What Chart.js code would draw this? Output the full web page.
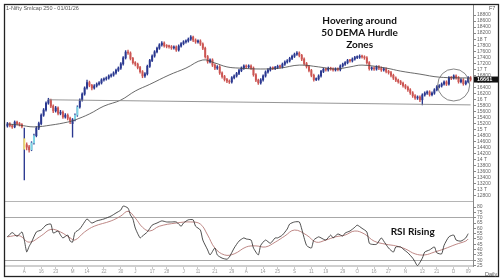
<!DOCTYPE html>
<html>
<head>
<meta charset="utf-8">
<script src="https://cdn.jsdelivr.net/npm/chart.js@4.4.1/dist/chart.umd.min.js"></script>
<style>
  html, body { margin: 0; padding: 0; background: #fff; }
  #wrap { position: relative; width: 500px; height: 280px; }
</style>
</head>
<body>
<div id="wrap"><canvas id="chart" width="500" height="280"></canvas></div>
<script>
// 1-Nifty Smlcap 250, daily candles
var opens = [15120,15190,15130,15090,15250,15200,15170,14700,14500,14430,14330,14560,14800,15050,15200,15480,15650,15880,15980,15780,
  15620,15720,15540,15580,15420,15480,15380,15200,15330,15480,15750,15980,16180,16380,16560,16470,16380,16450,16510,16550,
  16650,16680,16710,16780,16810,16880,16970,17040,17180,17380,17570,17540,17360,17220,17170,17060,16920,16780,16850,17100,
  17290,17440,17580,17700,17810,17870,17780,17760,17750,17710,17740,17640,17770,17850,17910,17940,18000,18070,17970,17910,
  17940,17840,17700,17420,17250,17310,17140,17040,17080,16880,16760,16660,16610,16580,16720,16780,16860,16960,17040,17110,
  17080,17110,17040,16820,16640,16550,16650,16780,16910,16980,17040,17030,17060,17100,17080,17170,17240,17280,17360,17430,
  17500,17540,17460,17340,17190,17090,16960,16800,16660,16680,16780,16930,17000,16980,17030,17010,16980,17010,16990,17110,
  17170,17220,17290,17280,17340,17390,17400,17430,17410,17380,17220,17020,17040,17010,17080,17040,16980,17010,16930,16890,
  16800,16710,16640,16590,16540,16460,16400,16320,16220,16120,16050,16080,15990,16150,16210,16250,16160,16210,16320,16420,
  16450,16510,16580,16510,16720,16710,16780,16720,16590,16650,16520,16590,16720];
var highs = [15240,15230,15170,15290,15280,15240,15200,15050,14560,14480,14600,14850,15100,15250,15520,15700,15920,16040,16010,15820,
  15770,15760,15640,15620,15530,15520,15420,15370,15520,15790,16020,16220,16420,16640,16610,16500,16490,16550,16590,16690,
  16720,16750,16820,16850,16920,17010,17080,17220,17420,17620,17640,17580,17400,17260,17210,17100,16960,16890,17140,17330,
  17480,17620,17740,17850,17920,17910,17820,17800,17790,17780,17780,17810,17890,17950,17980,18040,18120,18100,18010,17980,
  17980,17880,17740,17460,17350,17350,17180,17120,17120,16920,16800,16700,16650,16760,16820,16900,17000,17080,17150,17150,
  17150,17150,17080,16860,16680,16690,16820,16950,17020,17080,17080,17100,17140,17140,17210,17280,17320,17400,17470,17540,
  17590,17580,17500,17380,17230,17130,17000,16840,16720,16820,16970,17040,17040,17070,17070,17050,17050,17050,17150,17210,
  17260,17330,17330,17380,17430,17450,17480,17470,17450,17420,17260,17080,17080,17120,17120,17080,17050,17050,16970,16930,
  16840,16750,16680,16630,16580,16500,16440,16360,16260,16160,16120,16120,16190,16250,16290,16290,16250,16360,16460,16490,
  16550,16620,16620,16760,16760,16820,16820,16760,16690,16690,16630,16760,16760];
var lows = [15080,15090,15040,15060,15160,15120,15060,13330,14330,14250,14300,14520,14760,15000,15160,15440,15610,15840,15730,15560,
  15580,15490,15490,15370,15380,15320,15200,14750,15290,15440,15710,15940,16140,16340,16420,16320,16340,16410,16470,16510,
  16610,16640,16670,16740,16770,16840,16930,17000,17140,17340,17490,17310,17170,17110,17010,16870,16720,16730,16810,17060,
  17250,17400,17540,17660,17770,17730,17710,17700,17660,17670,17590,17600,17730,17810,17870,17900,17960,17920,17860,17870,
  17790,17650,17370,17200,17210,17090,16990,17000,16830,16710,16610,16560,16530,16540,16680,16740,16820,16920,17000,17040,
  17040,17000,16770,16590,16500,16510,16610,16740,16870,16940,16990,16990,17020,17040,17040,17130,17200,17240,17320,17390,
  17460,17410,17290,17140,17040,16910,16750,16610,16620,16640,16740,16890,16940,16940,16970,16940,16940,16950,16950,17070,
  17130,17180,17240,17240,17300,17350,17360,17370,17330,17170,16970,16970,16960,16970,16990,16930,16940,16880,16840,16750,
  16660,16590,16540,16490,16410,16350,16270,16170,16070,16000,16000,15930,15820,16110,16170,16110,16120,16170,16280,16380,
  16410,16470,16460,16470,16660,16670,16670,16540,16550,16470,16480,16550,16610];
var closes = [15190,15130,15090,15250,15200,15170,15100,14350,14420,14330,14560,14800,15050,15200,15480,15650,15880,15980,15780,15620,
  15720,15540,15580,15420,15480,15380,15280,15330,15480,15750,15980,16180,16380,16560,16470,16380,16450,16510,16550,16650,
  16680,16710,16780,16810,16880,16970,17040,17180,17380,17570,17540,17360,17220,17170,17060,16920,16780,16850,17100,17290,
  17440,17580,17700,17810,17870,17780,17760,17750,17710,17740,17640,17770,17850,17910,17940,18000,18070,17970,17910,17940,
  17840,17700,17420,17250,17310,17140,17040,17080,16880,16760,16660,16610,16580,16720,16780,16860,16960,17040,17110,17080,
  17110,17040,16820,16640,16550,16650,16780,16910,16980,17040,17030,17060,17100,17080,17170,17240,17280,17360,17430,17500,
  17540,17460,17340,17190,17090,16960,16800,16660,16680,16780,16930,17000,16980,17030,17010,16980,17010,16990,17110,17170,
  17220,17290,17280,17340,17390,17400,17430,17410,17380,17220,17020,17040,17010,17080,17040,16980,17010,16930,16890,16800,
  16710,16640,16590,16540,16460,16400,16320,16220,16120,16050,16080,15990,16150,16210,16250,16160,16210,16320,16420,16450,
  16510,16580,16510,16720,16710,16780,16720,16590,16650,16520,16590,16720,16660];

// 50 DEMA (candle index / value)
var demaAt  = [0,5,11,18,25,28,34,40,47,53,59,67,74,81,86,91,96,105,113,121,129,136,142,147,157,163,171,179,192];
var demaVal = [15190,15150,15090,15150,15250,15320,15520,15780,15980,16280,16500,16810,17040,17310,17210,17080,17040,17010,17040,17140,17080,17010,17080,17140,17040,16940,16840,16740,16710];

// support line
var supportAt  = [17, 192];
var supportVal = [15990, 15820];

// RSI and its average
var rsiAt  = [0,2,4,6,7,8,9,10,12,14,16,18,19,21,22,23,25,26,27,28,30,32,33,35,37,40,43,45,47,48,50,51,52,53,55,56,58,60,62,64,
  66,68,70,72,73,75,77,78,80,81,83,84,86,87,89,91,92,94,96,98,99,101,102,104,105,107,109,111,112,114,116,117,119,121,122,124,126,127,129,130,
  132,134,135,137,139,140,142,144,145,147,149,150,151,153,155,156,158,160,161,163,164,166,168,169,170,172,173,175,177,178,180,181,183,185,186,188,190,191];
var rsiVal = [52,56,52.5,56.6,49,37.8,43,47,56.6,58.4,63,64,55.6,57.5,53.7,51,53.7,48,47,56,59.4,66,68.8,65,67,68.8,71.6,74.4,77.2,81,79,72.5,69,60.3,51,52.8,56.6,63,65,67,
  66,66,66,62,65,68,68,62,58.4,49,39.7,35,41.5,35,32,31,33,41.5,48,51,50,49,41.5,35,44,49,46,51,51,53.7,59.4,64,66,66,59.4,44,41.5,49,52,51,
  49,53.7,51,54.7,52.8,55.6,57.5,61,63,60,56.6,46,45,45,51,48,41.5,37.7,42.5,42.5,40.6,37,32,28.4,24.8,32,37.7,39.7,42.5,37,36,44,52,53.7,49,48,51,55];
var sigAt  = [0,5,9,14,18,22,26,28,32,36,43,47,50,53,56,59,63,70,76,80,83,86,90,94,99,103,107,111,115,119,124,128,132,136,140,144,148,152,157,161,165,169,173,177,181,186,190,191];
var sigVal = [52,53,47,53,59,56.6,51,49,56.6,62,67,71.6,76,69.7,61,57.5,62,65,66,64,53.7,41.5,35,36,42.5,43.5,42.5,47,52.8,58.4,53.7,47,49,52,53.7,57.5,54.7,48,45,43.5,40.6,36,35,37.7,40.6,45,48,50];

// axis ticks
var priceTicks = [12800,13000,13200,13400,13600,13800,14000,14200,14400,14600,14800,15000,15200,15400,15600,15800,16000,
  16200,16400,16600,16800,17000,17200,17400,17600,17800,18000,18200,18400,18600,18800];
var rsiTicks = [25,30,35,40,45,50,55,60,65,70,75,80];
var dateAt   = [7,14,20,27,33,40,47,53,60,66,73,79,86,93,99,106,112,119,126,132,139,145,152,158,165,172,178,185,191];
var dateText = ['A','16','23','M','14','22','30','J','17','28','J','11','21','29','A','14','25','S','11','19','29','O','16','27','N','13','21','D','09'];

var title = '1-Nifty Smlcap 250 - 01/01/26';
var note = ['Hovering around', '50 DEMA Hurdle', 'Zones'];
var rsiNote = 'RSI Rising';
var lastPrice = 16661;

// a few candles are painted in highlight colours
var cyanBars = [10, 11, 28, 29];
var yellowBars = [7];

var UP = '#2a3890', DOWN = '#cc5552';
var bodyColor = closes.map(function (c, i) {
  if (yellowBars.indexOf(i) >= 0) return '#efd96e';
  if (cyanBars.indexOf(i) >= 0) return '#7fd6e4';
  return c >= opens[i] ? UP : DOWN;
});
var wickColor = closes.map(function (c, i) { return c >= opens[i] || yellowBars.indexOf(i) >= 0 ? UP : DOWN; });

function pts(at, val) { return at.map(function (x, i) { return {x: x, y: val[i]}; }); }
function priceLabel(v) { return v % 1000 === 0 ? (v / 1000) + ' T' : String(v); }

var tickFont = {family: 'Liberation Sans', size: 5};

var overlay = {
  id: 'overlay',
  afterDraw: function (chart) {
    var ctx = chart.ctx, x = chart.scales.x, y = chart.scales.y, y2 = chart.scales.y2;
    ctx.save();
    // panel separator
    ctx.strokeStyle = '#b5b5b5'; ctx.lineWidth = 1;
    ctx.beginPath(); ctx.moveTo(4, Math.round(y.bottom) + 0.5); ctx.lineTo(x.right, Math.round(y.bottom) + 0.5); ctx.stroke();
    // outer frame
    ctx.strokeStyle = '#222'; ctx.lineWidth = 1.3;
    ctx.strokeRect(4.5, 4.5, 494, 272);
    // circle round the last candles
    ctx.strokeStyle = '#666'; ctx.lineWidth = 0.8;
    ctx.beginPath(); ctx.arc(x.getPixelForValue(185), y.getPixelForValue(16480), 16, 0, Math.PI * 2); ctx.stroke();
    // notes
    ctx.fillStyle = '#111'; ctx.textAlign = 'center'; ctx.textBaseline = 'middle';
    ctx.font = 'bold 10px Lato';
    var nx = x.getPixelForValue(146), ny = y.getPixelForValue(18600);
    note.forEach(function (t, i) { ctx.fillText(t, nx, ny + i * 12); });
    ctx.fillText(rsiNote, x.getPixelForValue(168), y2.getPixelForValue(56.5));
    // title + corner texts
    ctx.font = '5.5px "Liberation Sans"'; ctx.fillStyle = '#555'; ctx.textAlign = 'left';
    ctx.fillText(title, 6, 8);
    ctx.fillText('F7', 489, 8);
    ctx.fillText('Daily', 485, 274);
    // last price box
    var py = y.getPixelForValue(lastPrice);
    ctx.fillStyle = '#111'; ctx.fillRect(x.right + 1, py - 3, 24, 6);
    ctx.fillStyle = '#fff'; ctx.font = 'bold 5.5px "Liberation Sans"';
    ctx.fillText(String(lastPrice), x.right + 4, py + 0.3);
    ctx.restore();
  }
};

var xs = closes.map(function (c, i) { return i; });

new Chart(document.getElementById('chart'), {
  type: 'bar',
  data: {
    datasets: [
      {
        label: 'wick', yAxisID: 'y', order: 3, grouped: false,
        data: xs.map(function (i) { return {x: i, y: [lows[i], highs[i]]}; }),
        backgroundColor: wickColor, barThickness: 0.7
      },
      {
        label: 'body', yAxisID: 'y', order: 2, grouped: false,
        data: xs.map(function (i) { return {x: i, y: [opens[i], closes[i]]}; }),
        backgroundColor: bodyColor, barThickness: 1.3, minBarLength: 1
      },
      {
        type: 'line', label: 'support', yAxisID: 'y', order: 1,
        data: pts(supportAt, supportVal),
        borderColor: '#8a8a8a', borderWidth: 0.9, pointRadius: 0
      },
      {
        type: 'line', label: '50 DEMA', yAxisID: 'y', order: 1,
        data: pts(demaAt, demaVal),
        borderColor: '#444', borderWidth: 0.8, pointRadius: 0, tension: 0.4
      },
      {
        type: 'line', label: 'RSI avg', yAxisID: 'y2', order: 1,
        data: pts(sigAt, sigVal),
        borderColor: '#b77a78', borderWidth: 0.9, pointRadius: 0, tension: 0.4
      },
      {
        type: 'line', label: 'RSI', yAxisID: 'y2', order: 0,
        data: pts(rsiAt, rsiVal),
        borderColor: '#222', borderWidth: 0.8, pointRadius: 0, tension: 0.2
      }
    ]
  },
  options: {
    responsive: false,
    animation: false,
    layout: {padding: {top: 4, left: 5, right: 0, bottom: 4}},
    plugins: {legend: {display: false}, tooltip: {enabled: false}},
    scales: {
      x: {
        type: 'linear', min: -1, max: 193, offset: false,
        afterBuildTicks: function (a) { a.ticks = dateAt.map(function (v) { return {value: v}; }); },
        afterFit: function (a) { a.height = 10; },
        border: {color: '#cfcfcf', width: 2},
        grid: {drawOnChartArea: false, offset: false, tickLength: 3, tickColor: '#c8c8c8'},
        ticks: {font: {family: 'Liberation Sans', size: 4.5}, color: '#999', padding: 0, maxRotation: 0, autoSkip: false,
          callback: function (v, i) { return dateText[i]; }}
      },
      y: {
        position: 'right', stack: 'pane', stackWeight: 197, min: 12634, max: 19165,
        afterBuildTicks: function (a) { a.ticks = priceTicks.map(function (v) { return {value: v}; }); },
        afterFit: function (a) { a.width = 27; },
        border: {color: '#888'},
        grid: {drawOnChartArea: false, tickLength: 3, tickColor: '#888'},
        ticks: {font: tickFont, color: '#666', padding: 1, autoSkip: false, callback: priceLabel}
      },
      y2: {
        position: 'right', stack: 'pane', stackWeight: 65, min: 24.6, max: 85.7,
        afterBuildTicks: function (a) { a.ticks = rsiTicks.map(function (v) { return {value: v}; }); },
        afterFit: function (a) { a.width = 27; },
        border: {color: '#888'},
        grid: {
          tickLength: 3, tickColor: '#888',
          color: function (c) { return c.tick && (c.tick.value === 70 || c.tick.value === 30) ? '#a8a8a8' : 'rgba(0,0,0,0)'; }
        },
        ticks: {font: tickFont, color: '#666', padding: 1, autoSkip: false}
      }
    }
  },
  plugins: [overlay]
});
</script>
</body>
</html>
